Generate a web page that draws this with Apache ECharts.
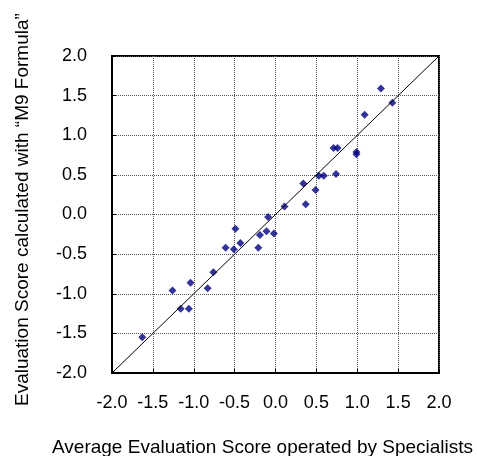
<!DOCTYPE html>
<html>
<head>
<meta charset="utf-8" />
<title>M9 Formula</title>
<script src="https://cdn.jsdelivr.net/npm/echarts@6/dist/echarts.min.js"></script>
<style>
	html, body { margin: 0; padding: 0; background: #fff; }
	#main { width: 477px; height: 456px; }
</style>
</head>
<body>
<div id="main"></div>
<script>
	// specialist average score (x) vs score from M9 formula (y)
	var specialistScore = [1.29, 1.43, 1.09, 0.71, 0.76, 0.99, 0.99, 0.53, 0.59, 0.74,
		0.34, 0.49, 0.37, 0.11, -0.09, -0.49, -0.19, -0.11, -0.02, -0.43,
		-0.61, -0.51, -0.21, -0.76, -1.04, -0.83, -1.26, -1.16, -1.06, -1.63];
	var formulaScore = [1.59, 1.41, 1.26, 0.84, 0.84, 0.79, 0.76, 0.49, 0.49, 0.51,
		0.39, 0.31, 0.13, 0.10, -0.03, -0.18, -0.26, -0.21, -0.24, -0.36,
		-0.42, -0.44, -0.42, -0.73, -0.86, -0.93, -0.96, -1.19, -1.19, -1.55];
	var diagonal = [[-2, -2], [2, 2]];
	var tickLabels = ['-2.0', '-1.5', '-1.0', '-0.5', '0.0', '0.5', '1.0', '1.5', '2.0'];

	var points = specialistScore.map(function (x, i) { return [x, formulaScore[i]]; });
	var font = '"Liberation Sans", Arial, sans-serif';

	function fmt(v) { return tickLabels[Math.round((v + 2) / 0.5)]; }

	var axisCommon = {
		type: 'value',
		min: -2,
		max: 2,
		interval: 0.5,
		axisLine: { show: true, onZero: false, lineStyle: { color: '#000', width: 2 } },
		axisTick: { show: true, inside: true, length: 4, lineStyle: { color: '#000' } },
		splitLine: { show: true, lineStyle: { color: '#555', type: [1, 1], width: 1 } },
		axisLabel: { color: '#000', fontSize: 18, fontFamily: font, formatter: fmt }
	};

	var myChart = echarts.init(document.getElementById('main'));
	var option = {
		animation: false,
		grid: { left: 112, right: 38, top: 56, bottom: 83, show: true, borderColor: '#000', borderWidth: 2 },
		xAxis: Object.assign({}, axisCommon, {
			axisLabel: Object.assign({}, axisCommon.axisLabel, { margin: 21 })
		}),
		yAxis: Object.assign({}, axisCommon, {
			axisLabel: Object.assign({}, axisCommon.axisLabel, { margin: 25 })
		}),
		graphic: [
			{
				type: 'text', left: 52, top: 438,
				style: { text: 'Average Evaluation Score operated by Specialists', fill: '#000', font: '19px ' + font }
			},
			{
				type: 'text', x: 13, y: 406, rotation: Math.PI / 2,
				style: { text: 'Evaluation Score calculated with \u201cM9 Formula\u201d', fill: '#000', font: '19px ' + font, textVerticalAlign: 'top' }
			}
		],
		series: [
			{
				type: 'line', data: diagonal, symbol: 'none', silent: true,
				lineStyle: { color: '#000', width: 1 }
			},
			{
				type: 'scatter', data: points, symbol: 'diamond', symbolSize: 8,
				itemStyle: { color: '#000080' }
			}
		]
	};
	myChart.setOption(option);
</script>
</body>
</html>
